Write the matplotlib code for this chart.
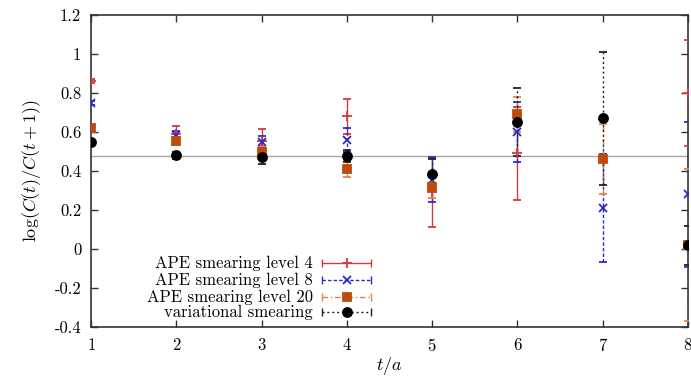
import numpy as np
import matplotlib
matplotlib.use('Agg')
import matplotlib.pyplot as plt

plt.rcParams['font.family'] = ['cmr10', 'DejaVu Serif']
plt.rcParams['mathtext.fontset'] = 'cm'
plt.rcParams['axes.unicode_minus'] = False
plt.rcParams['axes.formatter.use_mathtext'] = True

nan = np.nan
t = [1, 2, 3, 4, 5, 6, 7, 8]

ape4 = [0.86, 0.59, 0.555, 0.68, 0.29, 0.49, nan, 0.80]
ape4_err = [0.01, 0.04, 0.06, 0.09, 0.175, 0.24, nan, 0.27]
ape8 = [0.75, 0.585, 0.55, 0.56, 0.355, 0.60, 0.21, 0.28]
ape8_err = [0.01, 0.02, 0.03, 0.06, 0.115, 0.155, 0.275, 0.37]
ape20 = [0.62, 0.555, 0.50, 0.41, 0.32, 0.69, 0.46, 0.02]
ape20_err = [0.01, 0.02, 0.03, 0.04, 0.06, 0.09, 0.18, 0.39]
vari = [0.55, 0.48, 0.47, 0.477, 0.385, 0.65, 0.67, 0.02]
vari_err = [0.01, 0.02, 0.035, 0.03, 0.075, 0.175, 0.34, 0.10]

fit_value = 0.475

labels = ['APE smearing level 4', 'APE smearing level 8',
          'APE smearing level 20', 'variational smearing']
yticks = [-0.4, -0.2, 0, 0.2, 0.4, 0.6, 0.8, 1, 1.2]
ytick_labels = ['-0.4', '-0.2', '0', '0.2', '0.4', '0.6', '0.8', '1', '1.2']

fig = plt.figure(figsize=(6.91, 3.77), dpi=100)
ax = fig.add_axes([0.1317, 0.1326, 0.864, 0.8276])

ax.axhline(fit_value, color='#a8a8a8', lw=1, zorder=1)

styles = [
    dict(color='#d03c3c', mcolor='#d03c3c', marker='+', ms=7, ls='-'),
    dict(color='#2a2ad0', mcolor='#2a2ad0', marker='x', ms=6, ls=(0, (2.5, 1.5))),
    dict(color='#e0824a', mcolor='#c04a0a', marker='s', ms=6, ls=(0, (4, 2, 1, 2))),
    dict(color='#202020', mcolor='black', marker='o', ms=6.5, ls=(0, (1.5, 2))),
]
series = [(ape4, ape4_err), (ape8, ape8_err), (ape20, ape20_err), (vari, vari_err)]

for (y, e), s in zip(series, styles):
    mk, caps, bars = ax.errorbar(t, y, yerr=e, fmt=s['marker'], color=s['mcolor'],
                                 ecolor=s['color'], elinewidth=1, capsize=3,
                                 capthick=1, ms=s['ms'], mew=1.3, zorder=3)
    bars[0].set_linestyle(s['ls'])

# legend, gnuplot style: right aligned text, sample to the right
rows = [0.205, 0.151, 0.096, 0.048]
for lab, s, yr in zip(labels, styles, rows):
    ax.text(0.372, yr, lab, transform=ax.transAxes, ha='right', va='center',
            fontsize=12)
    ax.plot([0.387, 0.469], [yr, yr], transform=ax.transAxes, color=s['color'],
            ls=s['ls'], lw=1, clip_on=False)
    ax.plot([0.387, 0.469], [yr, yr], transform=ax.transAxes, color=s['color'],
            ls='none', marker='|', ms=6, mew=1, clip_on=False)
    ax.plot([0.429], [yr], transform=ax.transAxes, color=s['mcolor'],
            marker=s['marker'], ms=s['ms'], mew=1.3, ls='none', clip_on=False)

ax.set_xlim(1, 8)
ax.set_ylim(-0.4, 1.2)
ax.set_xticks(t)
ax.set_yticks(yticks)
ax.set_yticklabels(ytick_labels)
ax.tick_params(direction='in', length=5, width=1, top=True, right=True,
               labelsize=12, pad=7, color='#333333')
for sp in ax.spines.values():
    sp.set_linewidth(1.2)
    sp.set_color('#333333')

ax.set_xlabel(r'$t/a$', fontsize=13, labelpad=1)
ax.set_ylabel(r'$\log(C(t)/C(t+1))$', fontsize=13, labelpad=8)

fig.savefig('out.png', dpi=100)
